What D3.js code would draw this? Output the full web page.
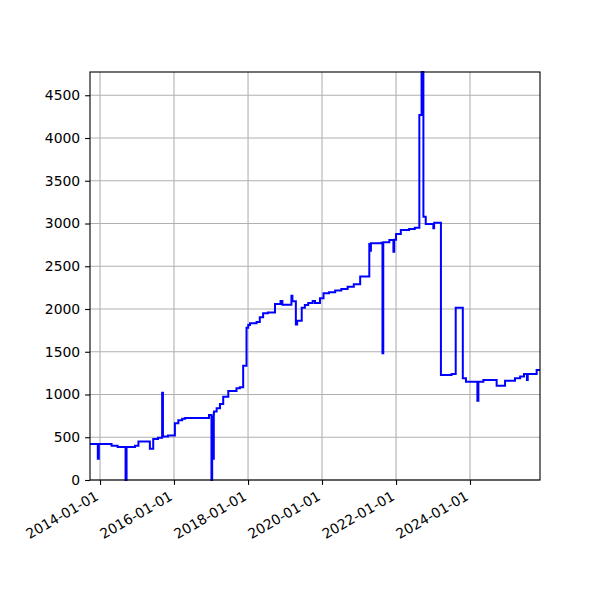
<!DOCTYPE html>
<html>
<head>
<meta charset="utf-8">
<script src="https://cdn.jsdelivr.net/npm/d3@7"></script>
<style>
  body { margin: 0; background: #fff; }
  text { font-family: "DejaVu Sans", sans-serif; }
</style>
</head>
<body>
<div id="chart"></div>
<script>

// step points: date, value
var dates = [
  "2013-09-24","2013-12-10","2013-12-20","2014-04-25","2014-06-24","2014-09-10","2014-09-20",
  "2014-12-12","2015-01-15","2015-05-08","2015-06-10","2015-07-27","2015-09-06","2015-09-14",
  "2015-11-03","2016-01-10","2016-02-13","2016-03-22","2016-04-20","2016-12-12","2017-01-05",
  "2017-01-12","2017-01-20","2017-01-28","2017-01-30","2017-02-25","2017-03-30","2017-05-01",
  "2017-06-20","2017-09-09","2017-10-12","2017-11-14","2017-12-17","2018-01-03","2018-01-20",
  "2018-03-26","2018-04-27","2018-05-30","2018-07-16","2018-09-24","2018-11-18","2018-12-06",
  "2019-03-05","2019-03-15","2019-04-18","2019-05-01","2019-06-15","2019-07-16","2019-08-18",
  "2019-10-01","2019-10-24","2019-12-12","2020-01-16","2020-03-10","2020-05-10","2020-07-10",
  "2020-09-10","2020-11-10","2021-01-12","2021-04-12","2021-04-20","2021-04-28","2021-08-10",
  "2021-08-20","2021-08-28","2021-10-27","2021-12-06","2021-12-14","2022-01-01","2022-02-17",
  "2022-05-10","2022-07-05","2022-08-19","2022-09-10","2022-09-28","2022-10-21","2023-01-04",
  "2023-01-12","2023-03-20","2023-07-03","2023-08-13","2023-10-22","2023-11-22","2024-03-14",
  "2024-03-24","2024-05-12","2024-09-20","2024-12-12","2025-03-20","2025-05-10","2025-06-17",
  "2025-07-16","2025-07-24","2025-10-20","2025-11-22"
];
var values = [
  420, 250, 420, 400, 385, 0, 385,
  400, 450, 366, 480, 495, 1020, 510,
  520, 663, 700, 715, 725, 760, 0,
  740, 250, 780, 800, 838, 889, 975,
  1041, 1072, 1085, 1337, 1782, 1813, 1832,
  1848, 1903, 1949, 1960, 2058, 2094, 2050,
  2155, 2090, 1818, 1863, 2016, 2047, 2070,
  2094, 2070, 2125, 2183, 2195, 2215, 2235,
  2260, 2290, 2380, 2760, 2680, 2770, 2775,
  1482, 2780, 2807, 2670, 2810, 2877, 2924,
  2935, 2950, 4269, 4772, 3080, 2994, 2944,
  3010, 1228, 1240, 2015, 1189, 1150, 927,
  1150, 1170, 1103, 1160, 1190, 1210, 1240,
  1170, 1240, 1287, 1287
];
var xTicks = ["2014-01-01","2016-01-01","2018-01-01","2020-01-01","2022-01-01","2024-01-01"];
var yTicks = [0, 500, 1000, 1500, 2000, 2500, 3000, 3500, 4000, 4500];

var parse = d3.utcParse("%Y-%m-%d");
var fmt = d3.utcFormat("%Y-%m-%d");
var data = dates.map(function(d, i){
  return { date: parse(d), value: values[i] };
});

var width = 600, height = 600;
var plotLeft = 90, plotRight = 540, plotTop = 72, plotBottom = 480;

var svg = d3.select("#chart")
            .append("svg")
            .attr("width", width)
            .attr("height", height);

var x = d3.scaleUtc()
          .domain(d3.extent(data, function(d){ return d.date; }))
          .range([plotLeft, plotRight]);

var y = d3.scaleLinear()
          .domain([0, d3.max(values)])
          .range([plotBottom, plotTop]);

// grid
svg.append("g")
   .selectAll("line")
   .data(xTicks)
   .enter()
   .append("line")
   .attr("x1", function(d){ return x(parse(d)); })
   .attr("x2", function(d){ return x(parse(d)); })
   .attr("y1", plotTop)
   .attr("y2", plotBottom)
   .style("stroke", "#b0b0b0")
   .style("stroke-width", 1.1);

svg.append("g")
   .selectAll("line")
   .data(yTicks)
   .enter()
   .append("line")
   .attr("x1", plotLeft)
   .attr("x2", plotRight)
   .attr("y1", function(d){ return y(d); })
   .attr("y2", function(d){ return y(d); })
   .style("stroke", "#b0b0b0")
   .style("stroke-width", 1.1);

// the line
var line = d3.line()
             .curve(d3.curveStepAfter)
             .x(function(d){ return x(d.date); })
             .y(function(d){ return y(d.value); });

svg.append("path")
   .datum(data)
   .attr("d", line)
   .style("fill", "none")
   .style("stroke", "#0000ff")
   .style("stroke-width", 2);

// frame
svg.append("rect")
   .attr("x", plotLeft)
   .attr("y", plotTop)
   .attr("width", plotRight - plotLeft)
   .attr("height", plotBottom - plotTop)
   .style("fill", "none")
   .style("stroke", "#000")
   .style("stroke-width", 1.1);

// x axis
var xAxis = d3.axisBottom(x)
              .tickValues(xTicks.map(parse))
              .tickFormat(fmt)
              .tickSize(4.9)
              .tickPadding(4.9);

var gx = svg.append("g")
            .attr("transform", "translate(0," + plotBottom + ")")
            .call(xAxis);
gx.select(".domain").remove();
gx.selectAll("line").style("stroke-width", 1.1);
gx.selectAll("text")
  .attr("font-size", "13.9px")
  .attr("fill", "#000")
  .attr("text-anchor", "end")
  .attr("y", 0)
  .attr("dy", 0)
  .attr("transform", "translate(-1,19) rotate(-30)");

// y axis
var yAxis = d3.axisLeft(y)
              .tickValues(yTicks)
              .tickFormat(d3.format("d"))
              .tickSize(4.9)
              .tickPadding(4.9);

var gy = svg.append("g")
            .attr("transform", "translate(" + plotLeft + ",0)")
            .call(yAxis);
gy.select(".domain").remove();
gy.selectAll("line").style("stroke-width", 1.1);
gy.selectAll("text")
  .attr("font-size", "13.9px")
  .attr("fill", "#000");

</script>
</body>
</html>
